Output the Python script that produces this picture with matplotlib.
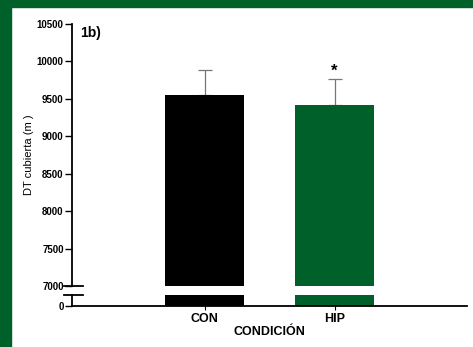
import matplotlib
matplotlib.use("Agg")
import matplotlib.pyplot as plt
from matplotlib.patches import Rectangle
from matplotlib import font_manager

categories = ["CON", "HIP"]
means = [9553, 9424]
errors = [336, 336]
colors = ["#000000", "#00602a"]
yticks_top = [7000, 7500, 8000, 8500, 9000, 9500, 10000, 10500]

names = {f.name for f in font_manager.fontManager.ttflist}
narrow = "Liberation Sans Narrow" if "Liberation Sans Narrow" in names else "Liberation Sans"

W, H = 473, 347
fig = plt.figure(figsize=(W / 100, H / 100), dpi=100)
fig.patch.set_facecolor("white")
green = "#00602a"
fig.patches.append(Rectangle((0, 1 - 7 / H), 1, 7 / H, transform=fig.transFigure, color=green, zorder=-1))
fig.patches.append(Rectangle((0, 0), 11 / W, 1, transform=fig.transFigure, color=green, zorder=-1))

left = 72 / W
width = (467 - 72) / W
ax = fig.add_axes([left, 1 - 286 / H, width, (286 - 24) / H])
axb = fig.add_axes([left, 1 - 306 / H, width, (306 - 295) / H])

x = [0, 1]
xlim = (-132.5 / 130, (395 - 132.5) / 130)
bw = 79 / 130

for a in (ax, axb):
    a.bar(x, means, width=bw, color=colors, zorder=2)
    a.set_xlim(*xlim)
    for s in ("top", "right"):
        a.spines[s].set_visible(False)
    a.spines["left"].set_linewidth(1.3)
    a.tick_params(axis="y", direction="out", length=5, width=1, labelsize=7, pad=1)

ax.errorbar(x, means, yerr=[[0, 0], errors], fmt="none", ecolor="#777777",
            elinewidth=0.9, capsize=5, capthick=0.9, zorder=1)
ax.set_ylim(7000, 10500)
ax.set_yticks(yticks_top)
ax.set_yticklabels([str(v) for v in yticks_top], family=narrow, fontweight="bold", fontsize=7)
ax.spines["bottom"].set_visible(False)
ax.tick_params(axis="x", bottom=False, labelbottom=False)
ax.set_ylabel("DT cubierta (m )", family=narrow, fontsize=8)
ax.yaxis.set_label_coords(-38 / 395, 0.5)

axb.set_ylim(0, 100)
axb.set_yticks([0])
axb.set_yticklabels(["0"], family=narrow, fontweight="bold", fontsize=7)
axb.spines["bottom"].set_linewidth(1.3)
axb.set_xticks(x)
axb.set_xticklabels(categories, family=narrow, fontweight="bold", fontsize=9)
axb.tick_params(axis="x", direction="out", length=3, width=0.8, pad=2)
axb.set_xlabel("CONDICIÓN", family=narrow, fontweight="bold", fontsize=9, labelpad=1)

# axis break marks
for yy in (286, 295):
    fig.add_artist(plt.Line2D([64 / W, 83 / W], [1 - yy / H, 1 - yy / H],
                              transform=fig.transFigure, color="black", lw=1.3))

ax.text(8 / 395, 1 - (33 - 24) / 262, "1b)", transform=ax.transAxes,
        fontsize=10, fontweight="bold", family="Liberation Sans", va="center", ha="left")
ax.text(1, means[1] + errors[1] + 15, "*", ha="center", va="bottom",
        fontsize=12, fontweight="bold", family="Liberation Sans")

fig.savefig("out.png", dpi=100, facecolor=fig.get_facecolor())
